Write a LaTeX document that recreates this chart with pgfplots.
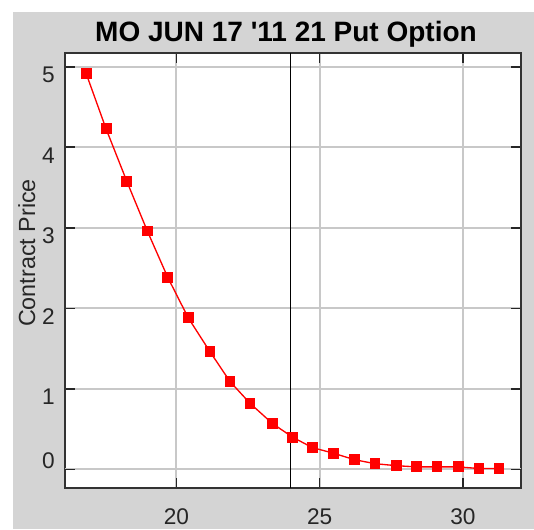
\documentclass[border=0pt]{standalone}
\usepackage{pgfplots}
\pgfplotsset{compat=1.18}
\usepackage{fontspec}
\setmainfont{Liberation Sans}
\definecolor{bggray}{RGB}{212,212,212}
\definecolor{gridgray}{RGB}{200,200,200}
\begin{document}
\begin{tikzpicture}
\fill[white] (0,0) rectangle (400.5pt,396.75pt);
\fill[bggray] (9.75pt,0) rectangle (400.5pt,387.75pt);
\begin{axis}[
  at={(48.75pt,31.125pt)}, anchor=south west,
  scale only axis, width=341.8pt, height=326.1pt,
  xmin=16.11, xmax=32.02, ymin=-0.226, ymax=5.175,
  axis background/.style={fill=white},
  xtick={20,25,30}, ytick={1,2,3,4,5},
  extra y ticks={0},
  extra y tick style={grid=major, yticklabel style={anchor=south east}},
  grid=major, grid style={gridgray, line width=1.4pt},
  axis line style={draw=black!80, line width=1.5pt},
  tick align=inside, major tick length=7.5pt,
  tick style={black!85, line width=1.2pt},
  xtick pos=both, ytick pos=both,
  ticklabel style={font=\fontsize{17}{20}\selectfont, text=black!85},
  /pgf/number format/assume math mode=true,
  yticklabel style={anchor=north east, inner sep=0pt, xshift=-7.5pt},
  xticklabel style={anchor=base, inner sep=0pt, yshift=-28pt},
  clip=false,
]
\addplot[black, line width=1.4pt, forget plot] coordinates {(23.98,-0.226) (23.98,5.175)};
\addplot[red, line width=1pt, mark=square*, mark size=3.6pt, mark options={fill=red, draw=red}] coordinates {
(16.845,4.92) (17.543,4.23) (18.265,3.58) (18.984,2.96) (19.696,2.385)
(20.415,1.88) (21.173,1.46) (21.871,1.09) (22.569,0.82) (23.347,0.57)
(24.052,0.40) (24.743,0.27) (25.483,0.20) (26.209,0.12) (26.932,0.07)
(27.675,0.045) (28.387,0.03) (29.096,0.03) (29.839,0.03) (30.562,0.01)
(31.260,0.01)};
\end{axis}
\node[anchor=base, font=\bfseries\fontsize{21}{24}\selectfont, text=black] at (214.5pt,365.25pt) {MO JUN 17 \textquotesingle 11 21 Put Option};
\node[rotate=90, anchor=base, font=\fontsize{17.5}{20}\selectfont, text=black!85] at (26.25pt,207pt) {Contract Price};
\end{tikzpicture}
\end{document}
